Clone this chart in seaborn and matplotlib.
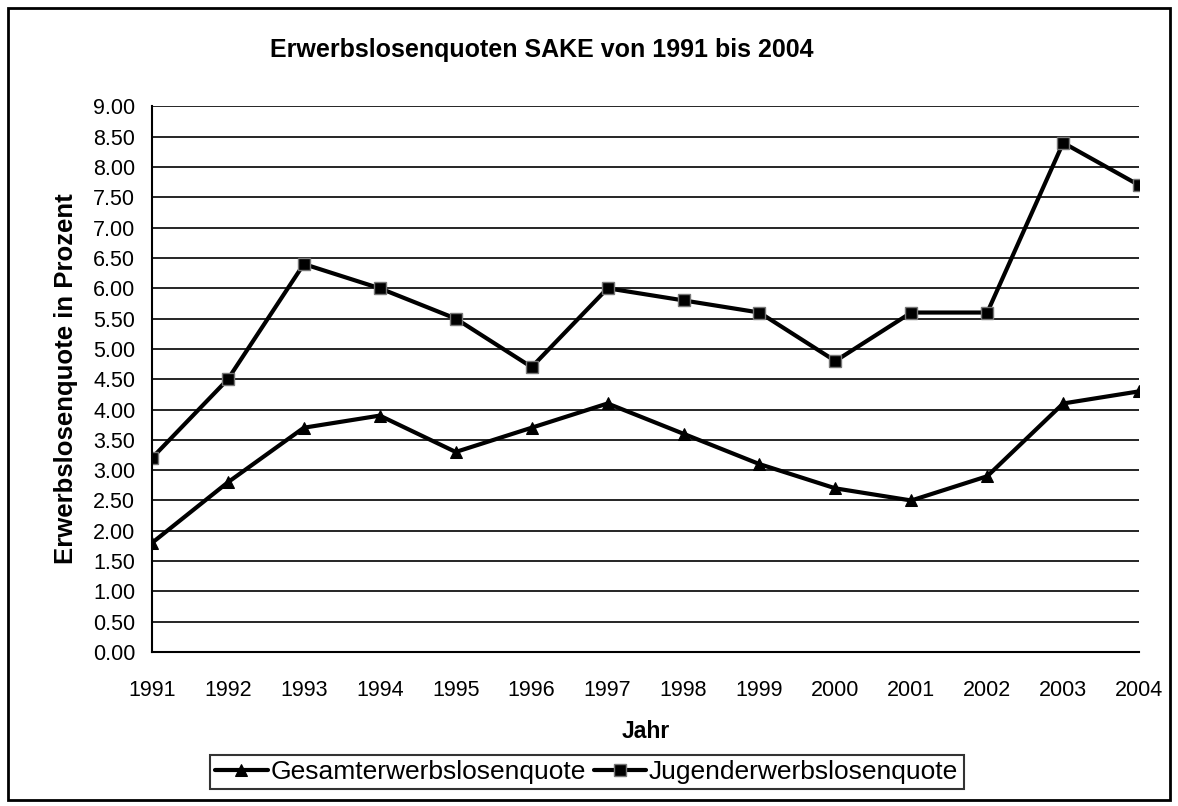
import pandas as pd
import matplotlib
matplotlib.use("Agg")
import matplotlib.pyplot as plt
import seaborn as sns
from matplotlib.patches import Rectangle

# Daten
jahre = [1991, 1992, 1993, 1994, 1995, 1996, 1997, 1998, 1999, 2000, 2001, 2002, 2003, 2004]
gesamt = [1.8, 2.8, 3.7, 3.9, 3.3, 3.7, 4.1, 3.6, 3.1, 2.7, 2.5, 2.9, 4.1, 4.3]
jugend = [3.2, 4.5, 6.4, 6.0, 5.5, 4.7, 6.0, 5.8, 5.6, 4.8, 5.6, 5.6, 8.4, 7.7]
y_ticks = [i * 0.5 for i in range(19)]

df = pd.DataFrame({"Jahr": jahre, "Gesamterwerbslosenquote": gesamt,
                   "Jugenderwerbslosenquote": jugend})

sns.set_style("white")
plt.rcParams["font.family"] = ["Liberation Sans", "DejaVu Sans"]
plt.rcParams["text.color"] = "black"

fig = plt.figure(figsize=(11.78, 8.06), dpi=100)
ax = fig.add_axes([0.129, 0.191, 0.838, 0.677])

sns.lineplot(data=df, x="Jahr", y="Gesamterwerbslosenquote", ax=ax, color="black",
             linewidth=3, marker="^", markersize=9, markeredgecolor="black",
             label="Gesamterwerbslosenquote")
sns.lineplot(data=df, x="Jahr", y="Jugenderwerbslosenquote", ax=ax, color="black",
             linewidth=3, marker="s", markersize=8, markeredgecolor="#777777",
             markeredgewidth=1, label="Jugenderwerbslosenquote")

ax.set_xlim(1991, 2004)
ax.set_ylim(0, 9)
ax.set_xticks(jahre)
ax.set_xticklabels([str(j) for j in jahre])
ax.set_yticks(y_ticks)
ax.set_yticklabels([f"{v:.2f}" for v in y_ticks])
ax.yaxis.grid(True, color="black", linewidth=1.2)
ax.xaxis.grid(False)
ax.set_axisbelow(True)
for s in ["top", "right"]:
    ax.spines[s].set_visible(False)
for s in ["left", "bottom"]:
    ax.spines[s].set_color("black")
    ax.spines[s].set_linewidth(1.5)
ax.tick_params(axis="both", direction="out", length=8, width=1.5, color="black",
               labelsize=15.5, labelcolor="black", pad=4)
ax.tick_params(axis="x", pad=12)

ax.set_xlabel("")
ax.set_ylabel("")
fig.text(0.056, 0.53, "Erwerbslosenquote in Prozent", rotation=90, ha="center",
         va="center", fontsize=18.5, fontweight="bold", color="black")
fig.text(0.548, 0.092, "Jahr", ha="center", va="center", fontsize=16.5,
         fontweight="bold", color="black")
fig.text(0.46, 0.938, "Erwerbslosenquoten SAKE von 1991 bis 2004", ha="center",
         va="center", fontsize=18, fontweight="bold", color="black")

ax.get_legend().remove()
handles, labels = ax.get_legend_handles_labels()
leg = fig.legend(handles, labels, loc="center", bbox_to_anchor=(0.498, 0.042), ncol=2,
                 frameon=True, fancybox=False, fontsize=19, handlelength=2.0,
                 handletextpad=0.1, columnspacing=0.3, borderpad=0.2,
                 edgecolor="black", labelcolor="black")
leg.get_frame().set_linewidth(1.5)

fig.patches.append(Rectangle((8 / 1178, 6 / 806), 1162 / 1178, 792 / 806,
                             transform=fig.transFigure, fill=False,
                             edgecolor="black", linewidth=2))

fig.savefig("out.png", dpi=100)
